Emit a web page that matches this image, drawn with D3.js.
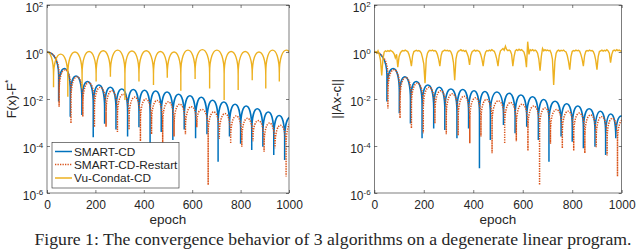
<!DOCTYPE html>
<html>
<head>
<meta charset="utf-8">
<script src="https://cdn.jsdelivr.net/npm/d3@7/dist/d3.min.js"></script>
<style>
body { margin: 0; background: #fff; }
svg text { font-family: "Liberation Sans", Arial, Helvetica, sans-serif; fill: #262626; }
</style>
</head>
<body>
<div id="chart"></div>
<script>
// tick values
let epochTicks = [0, 200, 400, 600, 800, 1000];
let yTickExp = [-6, -4, -2, 0, 2];
let seriesNames = ['SMART-CD', 'SMART-CD-Restart', 'Vu-Condat-CD'];
let seriesColors = ['#0072BD', '#D95319', '#EDB120'];

// all values are log10 of the plotted quantity
// curves are arches between troughs: trough epochs, trough values, arch peak values

// left panel: F(x)-F*
let blueLTrough = [48, 96, 144, 191, 238, 285, 333, 380, 426, 472, 520, 567, 614, 661, 707, 754, 800, 846, 892, 937, 982, 1029];
let blueLTroughVal = [-2.11, -2.75, -2.68, -3.63, -3.05, -3.3, -3.6, -3.2, -3.9, -3.4, -3.74, -3.3, -3.67, -3.5, -4.67, -3.6, -3.9, -4.17, -4.03, -4.38, -4.6, -3.5];
let blueLPeak = [-0.70, -1.02, -1.25, -1.40, -1.50, -1.57, -1.60, -1.63, -1.66, -1.70, -1.80, -1.86, -1.93, -2.05, -2.13, -2.22, -2.30, -2.42, -2.55, -2.70, -2.78];

let redLTrough = [50, 99, 148, 196, 244, 291, 339, 386, 432, 478, 525, 572, 619, 666, 712, 759, 805, 851, 897, 942, 988, 1034];
let redLTroughVal = [-2.33, -3.04, -2.75, -3.2, -3.18, -3.4, -3.3, -3.8, -3.5, -3.9, -3.6, -3.5, -3.2, -5.66, -3.7, -3.9, -4.03, -3.8, -4.24, -4.1, -5.3, -3.8];
let redLPeak = [-0.75, -1.05, -1.3, -1.5, -1.65, -1.8, -1.92, -2.0, -2.06, -2.12, -2.22, -2.33, -2.45, -2.55, -2.62, -2.72, -2.82, -2.92, -3.02, -3.12, -3.0];

let yellowLTrough = [27, 86, 145, 203, 262, 322, 380, 440, 497, 553, 612, 672, 732, 790, 848, 904, 960, 1018];
let yellowLTroughVal = [-1.50, -1.90, -1.55, -1.26, -1.05, -2.04, -1.26, -1.40, -1.10, -1.65, -1.15, -1.55, -2.04, -1.62, -1.20, -1.55, -1.26, -1.3];
let yellowLPeak = [-0.09, 0.0, 0.02, 0.05, 0.08, 0.04, 0.05, 0.02, 0.0, 0.08, 0.1, 0.08, 0.02, 0.02, 0.0, 0.08, 0.08];

// right panel: ||Ax-c||
let blueRTrough = [51, 101, 146, 193, 240, 285, 334, 381, 425, 469, 522, 569, 616, 663, 706, 755, 800, 845, 892, 935, 976, 1022];
let blueRTroughVal = [-2.11, -2.61, -3.04, -3.67, -3.25, -3.32, -3.67, -3.25, -4.95, -3.74, -3.11, -3.46, -3.18, -3.74, -4.67, -3.6, -3.82, -4.1, -4.03, -4.38, -3.67, -3.5];
let blueRPeak = [-0.70, -1.05, -1.26, -1.40, -1.50, -1.57, -1.60, -1.65, -1.68, -1.70, -1.76, -1.83, -1.90, -2.02, -2.10, -2.20, -2.30, -2.42, -2.52, -2.64, -2.72];

let redRTrough = [55, 104, 150, 198, 245, 291, 339, 386, 431, 476, 527, 574, 621, 668, 712, 760, 806, 851, 897, 941, 983, 1028];
let redRTroughVal = [-2.40, -2.82, -3.25, -3.46, -3.04, -3.5, -3.55, -3.88, -3.6, -4.31, -3.9, -3.8, -4.2, -5.66, -3.9, -4.1, -4.2, -4.3, -4.05, -4.4, -5.3, -3.8];
let redRPeak = [-0.75, -1.08, -1.32, -1.5, -1.65, -1.78, -1.88, -1.95, -2.02, -2.08, -2.15, -2.22, -2.3, -2.38, -2.45, -2.52, -2.6, -2.68, -2.75, -2.82, -2.88];

// Vu-Condat-CD on the right is noisy: one value every 5 epochs, 0..1000
let yellowRStep = 5;
let yellowRVal = [
  0.0, 0.02, -0.05, 0.05, -0.1, -0.35, -1.0, -0.3, 0.0, 0.05, 0.02, 0.06, 0.03, 0.07, 0.04, 0.0, -0.08, -0.25, -0.1, -0.65,
  -0.2, -0.05, 0.03, 0.06, 0.04, 0.08, 0.05, 0.02, -0.1, -0.3, -0.6, -0.15, 0.02, 0.05, 0.07, 0.04, 0.06, 0.03, -0.05, -0.25,
  -0.5, -1.33, -0.3, -0.05, 0.04, 0.07, 0.05, 0.08, 0.04, 0.06, 0.02, -0.1, -0.3, -0.6, -0.15, 0.02, 0.05, 0.08, 0.05, 0.07,
  0.04, 0.06, 0.0, -0.15, -0.45, -1.2, -0.3, -0.05, 0.04, 0.06, 0.1, 0.05, 0.07, 0.03, 0.06, -0.05, -0.2, -0.55, -0.15, 0.0,
  0.05, 0.08, 0.04, 0.07, 0.05, 0.02, -0.1, -0.3, -0.6, -0.2, 0.0, 0.06, 0.04, 0.08, 0.05, 0.1, 0.06, 0.03, -0.1, -0.3,
  -0.6, -0.15, 0.05, 0.1, 0.15, 0.08, 0.25, 0.1, 0.06, 0.08, 0.04, -0.1, -0.6, -0.2, 0.05, 0.1, 0.06, 0.12, 0.07, 0.1,
  0.05, 0.0, -0.2, -0.65, 0.44, -0.1, 0.1, 0.06, 0.1, 0.05, 0.08, 0.04, -0.05, -0.3, -0.8, -0.2, 0.15, 0.05, 0.1, 0.06,
  0.08, 0.05, 0.07, -0.05, -0.3, -1.4, -0.4, -0.05, 0.05, 0.08, 0.04, 0.07, 0.05, 0.08, 0.03, 0.0, -0.15, -0.4, -0.75, -0.2,
  0.02, 0.06, 0.04, 0.08, 0.05, 0.07, 0.03, -0.1, -0.3, -0.6, -0.15, 0.03, 0.06, 0.04, 0.08, 0.05, 0.06, 0.02, -0.1, -0.35,
  -0.75, -0.2, 0.02, 0.05, 0.08, 0.04, 0.07, 0.05, 0.1, 0.05, -0.05, -0.45, -0.1, 0.05, 0.08, 0.05, 0.1, 0.06, 0.08, 0.04,
  0.05
];

let W = 640, H = 249;
let plotTop = 5, plotBottom = 193;

let svg = d3.select('#chart').append('svg')
    .attr('width', W)
    .attr('height', H);

let panels = [
  {left: 47, right: 289, label: 'F(x)-F', labelSup: '*', labelX: 16,
   blue: [blueLTrough, blueLTroughVal, blueLPeak],
   red: [redLTrough, redLTroughVal, redLPeak],
   yellow: [yellowLTrough, yellowLTroughVal, yellowLPeak], legend: true},
  {left: 374.3, right: 621.7, label: '||Ax-c||', labelSup: '', labelX: 341,
   blue: [blueRTrough, blueRTroughVal, blueRPeak],
   red: [redRTrough, redRTroughVal, redRPeak],
   yellow: null, legend: false}
];

// arch-shaped curve: rounded dome between troughs, sharp cusp down at each trough
function archPath(x, y, troughs, troughVals, peaks) {
  let p = d3.path();
  let Y = v => y(Math.pow(10, v));
  // first half arch from epoch 0 (value 10^0) down to first trough
  let xs = x(0), xt = x(troughs[0]), w = xt - xs;
  let e0 = Math.max(-1, troughVals[0]);
  p.moveTo(xs, Y(0));
  p.bezierCurveTo(xs + 0.5 * w, Y(0), xt, Y(e0 + 0.7), xt, Y(e0));
  p.lineTo(xt, Y(troughVals[0]));
  for (let i = 0; i < peaks.length; i++) {
    let xa = x(troughs[i]), xb = x(troughs[i + 1]);
    let h = (xb - xa) / 2, xm = xa + h;
    let pk = peaks[i];
    let ea = Math.max(pk - 1, troughVals[i]);
    let eb = Math.max(pk - 1, troughVals[i + 1]);
    p.lineTo(xa, Y(ea));
    p.bezierCurveTo(xa, Y(ea + 0.7), xm - 0.5 * h, Y(pk), xm, Y(pk));
    p.bezierCurveTo(xm + 0.5 * h, Y(pk), xb, Y(eb + 0.7), xb, Y(eb));
    p.lineTo(xb, Y(troughVals[i + 1]));
  }
  return p.toString();
}

panels.forEach(function(pn, pi) {
  let x = d3.scaleLinear().domain([0, 1000]).range([pn.left, pn.right]);
  let y = d3.scaleLog().domain([1e-6, 1e2]).range([plotBottom, plotTop]);

  let g = svg.append('g');
  let clipId = 'clip' + pi;
  g.append('clipPath').attr('id', clipId)
    .append('rect')
    .attr('x', pn.left).attr('y', plotTop)
    .attr('width', pn.right - pn.left).attr('height', plotBottom - plotTop);

  let plot = g.append('g').attr('clip-path', 'url(#' + clipId + ')');

  plot.append('path')
    .attr('d', archPath(x, y, pn.blue[0], pn.blue[1], pn.blue[2]))
    .attr('fill', 'none')
    .attr('stroke', seriesColors[0])
    .attr('stroke-width', 1.5);

  plot.append('path')
    .attr('d', archPath(x, y, pn.red[0], pn.red[1], pn.red[2]))
    .attr('fill', 'none')
    .attr('stroke', seriesColors[1])
    .attr('stroke-width', 1.5)
    .attr('stroke-dasharray', '1.3,1.2');

  if (pn.yellow) {
    plot.append('path')
      .attr('d', archPath(x, y, pn.yellow[0], pn.yellow[1], pn.yellow[2]))
      .attr('fill', 'none')
      .attr('stroke', seriesColors[2])
      .attr('stroke-width', 1.4);
  } else {
    let line = d3.line()
      .x((d, i) => x(i * yellowRStep))
      .y(d => y(Math.pow(10, d)));
    plot.append('path')
      .attr('d', line(yellowRVal))
      .attr('fill', 'none')
      .attr('stroke', seriesColors[2])
      .attr('stroke-width', 1.4);
  }

  // axes, matlab style: inward ticks on all four sides, box
  let tickVals = yTickExp.map(e => Math.pow(10, e));
  g.append('g').attr('transform', 'translate(0,' + plotBottom + ')')
    .call(d3.axisBottom(x).tickValues(epochTicks).tickFormat(d3.format('d'))
      .tickSizeInner(-3).tickSizeOuter(0).tickPadding(7.5));
  g.append('g').attr('transform', 'translate(0,' + plotTop + ')')
    .call(d3.axisTop(x).tickValues(epochTicks).tickSizeInner(-3).tickSizeOuter(0).tickFormat(''));
  let yl = g.append('g').attr('transform', 'translate(' + pn.left + ',0)')
    .call(d3.axisLeft(y).tickValues(tickVals).tickSizeInner(-3).tickSizeOuter(0).tickFormat(''));
  g.append('g').attr('transform', 'translate(' + pn.right + ',0)')
    .call(d3.axisRight(y).tickValues(tickVals).tickSizeInner(-3).tickSizeOuter(0).tickFormat(''));

  g.selectAll('.domain').remove();
  g.selectAll('.tick line').attr('stroke', '#262626').attr('stroke-width', 0.6);
  g.selectAll('.tick text').style('font-size', '12px').attr('fill', '#262626');

  yl.selectAll('.tick').each(function(d) {
    let t = d3.select(this).append('text')
      .attr('x', -3.7).attr('y', 6)
      .attr('text-anchor', 'end')
      .style('font-size', '12px');
    t.append('tspan').text('10');
    t.append('tspan').attr('dy', -4.8).style('font-size', '8px').text(Math.round(Math.log10(d)));
  });

  g.append('rect')
    .attr('x', pn.left).attr('y', plotTop)
    .attr('width', pn.right - pn.left).attr('height', plotBottom - plotTop)
    .attr('fill', 'none').attr('stroke', '#262626').attr('stroke-width', 0.6);

  g.append('text')
    .attr('x', (pn.left + pn.right) / 2).attr('y', 224.3)
    .attr('text-anchor', 'middle')
    .style('font-size', '13.5px')
    .text('epoch');

  let lab = g.append('text')
    .attr('transform', 'translate(' + pn.labelX + ',' + ((plotTop + plotBottom) / 2) + ') rotate(-90)')
    .attr('text-anchor', 'middle')
    .style('font-size', '13px');
  lab.append('tspan').text(pn.label);
  if (pn.labelSup) lab.append('tspan').attr('dy', -5).style('font-size', '8.5px').text(pn.labelSup);

  if (pn.legend) {
    let lg = g.append('g');
    lg.append('rect')
      .attr('x', 52).attr('y', 142.5).attr('width', 127).attr('height', 45.5)
      .attr('fill', '#fff').attr('stroke', '#262626').attr('stroke-width', 0.6);
    let rows = [151.5, 164.5, 178];
    seriesNames.forEach(function(name, i) {
      let ln = lg.append('line')
        .attr('x1', 55).attr('x2', 72).attr('y1', rows[i]).attr('y2', rows[i])
        .attr('stroke', seriesColors[i]).attr('stroke-width', 1.5);
      if (i == 1) ln.attr('stroke-dasharray', '1.3,1.2');
      lg.append('text')
        .attr('x', 74).attr('y', rows[i] + 4)
        .style('font-size', '11.8px')
        .text(name);
    });
  }
});

svg.append('text')
  .attr('x', 333).attr('y', 245)
  .attr('text-anchor', 'middle')
  .style('font-family', '"Liberation Serif", "Times New Roman", serif')
  .style('font-size', '17.7px')
  .attr('fill', '#000')
  .text('Figure 1: The convergence behavior of 3 algorithms on a degenerate linear program.');
</script>
</body>
</html>
